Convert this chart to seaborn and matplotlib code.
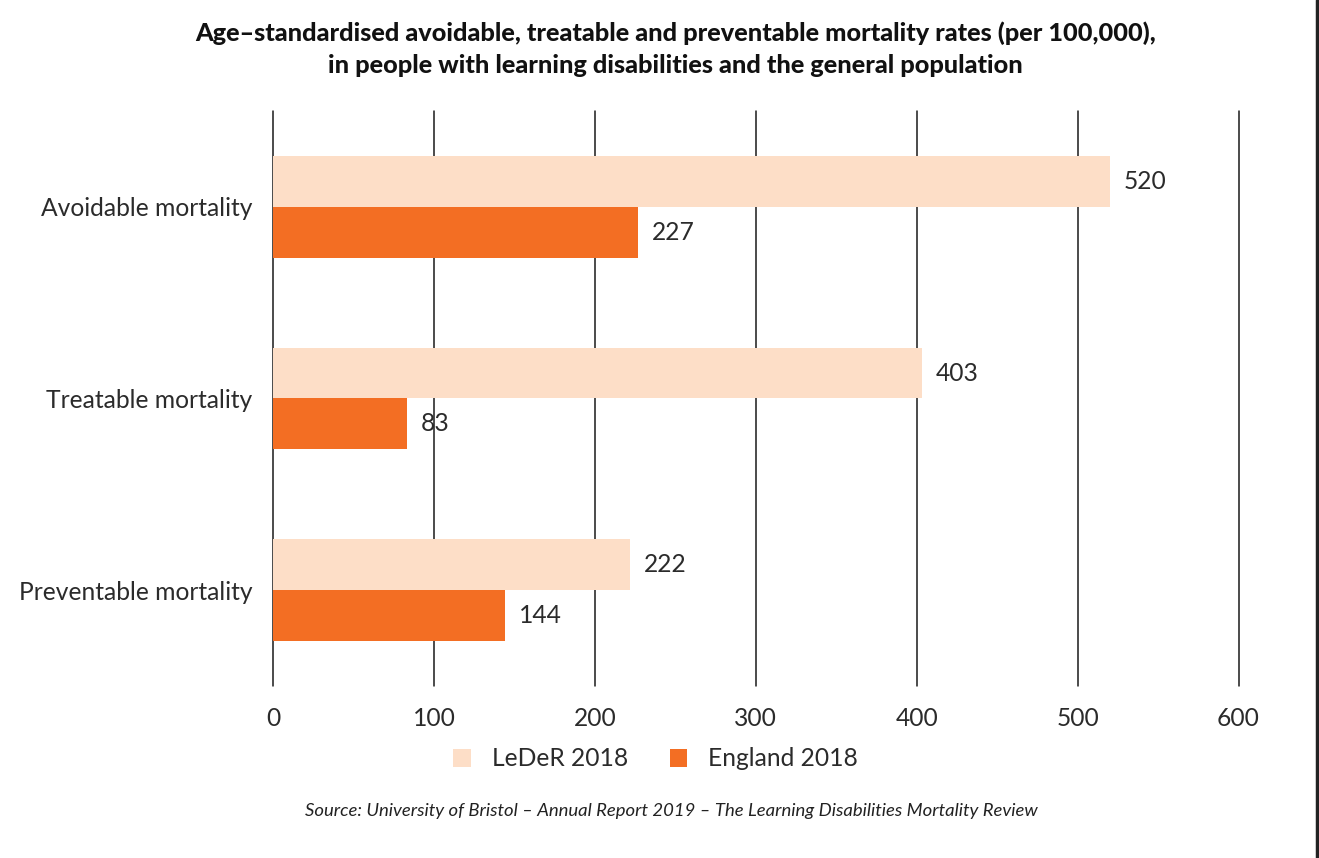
"""
Avoidable, treatable and preventable mortality: LeDeR 2018 vs England 2018.
"""

import matplotlib.pyplot as plt
import pandas as pd
import seaborn as sns
from matplotlib.lines import Line2D

categories = ["Avoidable mortality", "Treatable mortality", "Preventable mortality"]
series = ["LeDeR 2018", "England 2018"]
leder_2018 = [520, 403, 222]
england_2018 = [227, 83, 144]
x_ticks = [0, 100, 200, 300, 400, 500, 600]

colors = {"LeDeR 2018": "#FDDEC7", "England 2018": "#F36E23"}
text_color = "#2b2b2b"
fs = 17.7

df = pd.DataFrame(
    {
        "category": categories * 2,
        "series": [series[0]] * 3 + [series[1]] * 3,
        "value": leder_2018 + england_2018,
    }
)

sns.set_style("white")
plt.rcParams["font.family"] = ["Lato", "DejaVu Sans"]

fig = plt.figure(figsize=(13.19, 8.58), dpi=100)
ax = fig.add_axes([0.207, 0.2005, 0.732, 0.6701])

sns.barplot(
    data=df,
    x="value",
    y="category",
    hue="series",
    hue_order=series,
    order=categories,
    palette=colors,
    orient="h",
    width=0.53,
    saturation=1,
    linewidth=0,
    ax=ax,
    legend=False,
)

ax.set_xlim(0, 600)
ax.set_xticks(x_ticks)
ax.set_xlabel("")
ax.set_ylabel("")
for s in ax.spines.values():
    s.set_visible(False)

ax.xaxis.grid(True, color="#1a1a1a", linewidth=1.1)
for gl in ax.get_xgridlines():
    gl.set_clip_on(False)
ax.set_axisbelow(True)
ax.tick_params(axis="both", length=0, labelcolor=text_color)
ax.tick_params(axis="x", pad=15, labelsize=fs)
ax.tick_params(axis="y", pad=15, labelsize=fs)

for container in ax.containers:
    ax.bar_label(container, padding=10, fontsize=fs, color=text_color)

title = (
    "Age–standardised avoidable, treatable and preventable mortality rates (per 100,000),\n"
    "in people with learning disabilities and the general population"
)
fig.text(
    0.512,
    1 - 49 / 858,
    title,
    ha="center",
    va="center",
    fontsize=18.2,
    fontweight="black",
    color="#111111",
    linespacing=1.5,
)

handles = [
    plt.Rectangle((0, 0), 1, 1, facecolor=colors[s], edgecolor="none") for s in series
]
fig.legend(
    handles,
    series,
    loc="center",
    bbox_to_anchor=(0.497, 1 - 759 / 858),
    ncol=2,
    frameon=False,
    handlelength=0.7,
    handleheight=0.7,
    handletextpad=0.85,
    columnspacing=1.7,
    labelcolor=text_color,
    prop={"size": fs},
)

fig.text(
    0.509,
    1 - 811 / 858,
    "Source: University of Bristol – Annual Report 2019 – The Learning Disabilities Mortality Review",
    ha="center",
    va="center",
    fontsize=13.3,
    style="italic",
    color="#222222",
)

fig.add_artist(Line2D([0.9985, 0.9985], [0, 1], color="#222222", linewidth=2.5))

fig.savefig("out.png", dpi=100)
